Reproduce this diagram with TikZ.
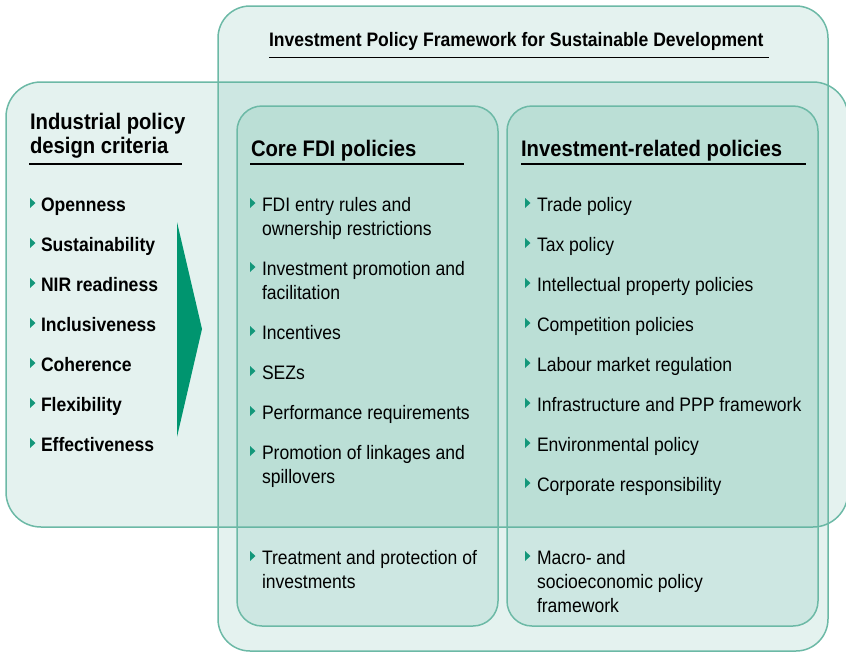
\documentclass[tikz,border=0pt]{standalone}
\usepackage{fontspec}
\setmainfont{Liberation Sans}[FakeStretch=0.9]
\definecolor{bordercol}{HTML}{6CB9A6}
\definecolor{boxcol}{HTML}{5FB3A0}
\definecolor{bulcol}{HTML}{13977A}
\definecolor{arrowcol}{HTML}{00956F}
\newcommand{\bodyfont}{\fontsize{19.5}{24}\selectfont}
\newcommand{\headfont}{\fontsize{22.5}{24}\selectfont\bfseries}
\newcommand{\titlefont}{\fontsize{19.5}{24}\selectfont\bfseries}
\begin{document}
\begin{tikzpicture}[x=1pt,y=-1pt,
  panel/.style={draw=bordercol, line width=1.5pt, fill=boxcol, fill opacity=0.17, inner sep=0, outer sep=0},
  txt/.style={anchor=base west, inner sep=0, outer sep=0, align=left, font=\bodyfont, text=black},
  bold/.style={txt, font=\titlefont},
  head/.style={txt, font=\headfont},
  uline/.style={line width=1.1pt, black},
  bullet/.pic={\fill[bulcol] (0,-5) -- (5.5,0) -- (0,5) -- cycle;}
]
\useasboundingbox (0,0) rectangle (846,654);
% boxes
\node[panel, rounded corners=35, minimum width=842pt, minimum height=445pt, anchor=north west] (left) at (6,82) {};
\node[panel, rounded corners=32, minimum width=610pt, minimum height=645pt, anchor=north west] (top) at (218,6) {};
\node[panel, rounded corners=25, minimum width=261pt, minimum height=520pt, anchor=north west] (core) at (237,106) {};
\node[panel, rounded corners=25, minimum width=311pt, minimum height=520pt, anchor=north west] (inv) at (507,106) {};

% title
\node[bold] (title) at (269,46) {Investment Policy Framework for Sustainable Development};
\draw[uline] (269,57.5) -- (769,57.5);

% left heading
\node[head] (lh1) at (30,129) {Industrial policy};
\node[head] (lh2) at (30,153) {design criteria};
\draw[uline] (29,164) -- (182,164);

\node[head] (ch) at (251,156) {Core FDI policies};
\draw[uline] (250,164) -- (464,164);
\node[head] (ih) at (521,156) {Investment-related policies};
\draw[uline] (521,164) -- (806,164);

% left criteria
\foreach \t [count=\i from 0] in {Openness,Sustainability,NIR readiness,Inclusiveness,Coherence,Flexibility,Effectiveness}{
  \pic at (30,{211+40*\i-8}) {bullet};
  \node[bold] (crit\i) at (41,{211+40*\i}) {\t};
}

% arrow
\fill[arrowcol] (177,222) -- (202,329) -- (177,437) -- cycle;

% core items (anchor = baseline of last line)
\pic at (250,203) {bullet};
\node[txt] (c1) at (262,235) {FDI entry rules and\\ownership restrictions};
\pic at (250,267) {bullet};
\node[txt] (c2) at (262,299) {Investment promotion and\\facilitation};
\pic at (250,331) {bullet};
\node[txt] (c3) at (262,339) {Incentives};
\pic at (250,371) {bullet};
\node[txt] (c4) at (262,379) {SEZs};
\pic at (250,411) {bullet};
\node[txt] (c5) at (262,419) {Performance requirements};
\pic at (250,451) {bullet};
\node[txt] (c6) at (262,483) {Promotion of linkages and\\spillovers};
\pic at (250,556) {bullet};
\node[txt] (c7) at (262,588) {Treatment and protection of\\investments};

% investment-related items
\foreach \t [count=\i from 0] in {Trade policy,Tax policy,Intellectual property policies,Competition policies,Labour market regulation,Infrastructure and PPP framework,Environmental policy,Corporate responsibility}{
  \pic at (525,{211+40*\i-8}) {bullet};
  \node[txt] (r\i) at (537,{211+40*\i}) {\t};
}
\pic at (525,556) {bullet};
\node[txt] (r8) at (537,612) {Macro- and\\socioeconomic policy\\framework};
\end{tikzpicture}
\end{document}
